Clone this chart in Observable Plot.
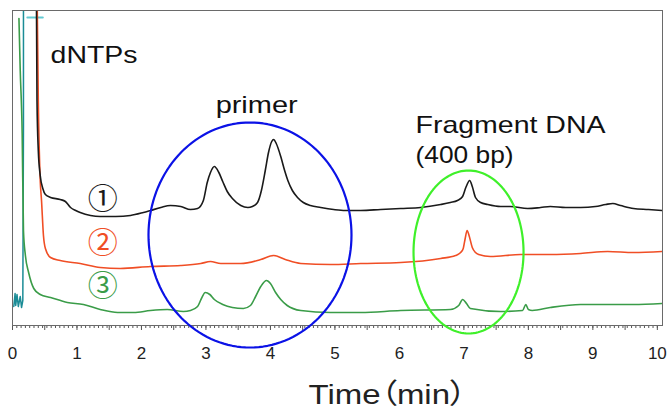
<!DOCTYPE html>
<html><head><meta charset="utf-8">
<script src="https://cdn.jsdelivr.net/npm/d3@7"></script>
<script src="https://cdn.jsdelivr.net/npm/@observablehq/plot@0.6"></script>
<style>body{margin:0;background:#fff} #chart svg{display:block}</style>
</head><body><div id="chart"></div><script>
// Chromatogram traces: retention time (min) and detector signal (arbitrary units)
const tBlack = [0.37,0.38,0.40,0.43,0.47,0.51,0.59,0.74,0.82,0.90,0.98,1.05,1.21,1.36,1.60,1.83,2.03,2.14,2.30,2.45,2.61,2.76,2.87,2.96,3.02,3.07,3.13,3.20,3.26,3.33,3.41,3.54,3.65,3.72,3.80,3.86,3.92,3.97,4.02,4.05,4.09,4.16,4.22,4.27,4.34,4.42,4.51,4.62,4.78,4.98,5.16,5.40,5.71,6.02,6.33,6.64,6.79,6.90,6.98,7.03,7.09,7.13,7.18,7.26,7.37,7.57,7.72,7.99,8.19,8.34,8.58,8.81,9.04,9.20,9.31,9.43,9.63,9.86,10.08];
const vBlack = [340,225,175,150,137,131,128,126,124,118,115,113,110,109,109,110,113,115,118,120,119,116,117,125,143,153,159,153,144,134,127,120,118,119,123,135,155,173,184,186,182,169,155,145,135,128,123,120,118,116,115,115,116,117,118,121,123,125,129,138,145,139,128,123,121,119,119,117,118,119,118,118,119,121,122,120,117,116,115];

const tRed = [0.38,0.40,0.43,0.45,0.48,0.51,0.59,0.74,1.05,1.36,1.67,2.14,2.61,2.92,3.07,3.23,3.54,3.85,4.05,4.23,4.47,4.93,5.40,6.02,6.64,6.87,6.95,6.99,7.02,7.05,7.08,7.13,7.18,7.23,7.41,7.88,8.34,8.81,9.23,9.63,10.08];
const vRed = [340,225,145,125,90,77,68,65,62,58,57,59,60,62,64,62,62,66,70,66,62,61,62,63,67,70,73,77,87,95,90,78,73,71,69,71,71,72,74,73,74];

const tGreen = [0.10,0.12,0.15,0.17,0.20,0.25,0.33,0.43,0.59,0.85,1.10,1.36,1.63,1.88,2.14,2.40,2.65,2.76,2.87,2.93,2.99,3.06,3.13,3.26,3.41,3.58,3.69,3.77,3.85,3.94,4.00,4.08,4.16,4.26,4.47,4.93,5.40,6.02,6.79,6.92,6.98,7.04,7.10,7.57,7.91,7.96,8.00,8.06,8.34,8.81,9.63,10.08];
const vGreen = [307,255,192,95,70,53,37,31,28,23,21,16,13,13,15,16,14,15,19,27,33,31,26,21,18,17,20,29,39,45,42,33,26,20,15,13,13,15,16,20,26,22,17,14,15,21,16,15,18,21,21,22];

const tTeal = [0.02,0.04,0.05,0.07,0.09,0.12,0.14,0.16,0.17,0.17];
const vTeal = [19,32,20,31,19,29,18,25,200,340];

const tMarker = [0.23,0.47];
const vMarker = [308,308];

// Tick values / labels
const xTickLabels = [0,1,2,3,4,5,6,7,8,9,10];
const xMajorTicks = d3.range(0, 10.01, 0.5);
const xMinorTicks = d3.range(0, 151).map(i => i / 15);

// Annotations
const labelText = ["dNTPs", "primer", "Fragment DNA", "(400 bp)"];
const labelT = [0.59, 3.15, 6.25, 6.25];
const labelV = [263, 213, 193, 163];
const circledText = ["①", "②", "③"];
const circledT = [1.40, 1.40, 1.40];
const circledV = [126, 82, 39];
const circledColor = ["#1a1a1a", "#f04e25", "#3a9c48"];

const blueCircle = {t: 3.683, v: 90.5, rt: 1.574, rv: 112.5};
const limeEllipse = {t: 7.072, v: 73.5, rt: 0.853, rv: 81.5};

const rows = (t, v) => t.map((x, i) => ({t: x, v: v[i]}));
const ellipse = c => d3.range(0, 145).map(i => {
  const a = i / 144 * 2 * Math.PI;
  return {t: c.t + c.rt * Math.cos(a), v: c.v + c.rv * Math.sin(a)};
});
const labels = labelText.map((s, i) => ({s, t: labelT[i], v: labelV[i]}));
const circled = circledText.map((s, i) => ({s, t: circledT[i], v: circledV[i], c: circledColor[i]}));

const fontLatin = "Liberation Sans, Arial, Noto Sans CJK JP, sans-serif";

const chart = Plot.plot({
  width: 667, height: 409,
  marginLeft: 12, marginRight: 5, marginTop: 10, marginBottom: 84,
  x: {domain: [0, 10.08]},
  y: {domain: [0, 315], axis: null},
  style: {background: "white", fontFamily: fontLatin, color: "#222"},
  marks: [
    Plot.axisX(xMinorTicks, {tickSize: 3, tickFormat: () => "", label: null, stroke: "#555"}),
    Plot.axisX(xMajorTicks, {tickSize: 5, tickFormat: () => "", label: null, stroke: "#555"}),
    Plot.axisX(xTickLabels, {tickSize: 0, tickPadding: 21, fontSize: 17, label: null, fill: "#222"}),
    Plot.line(rows(tTeal, vTeal), {x: "t", y: "v", stroke: "#1b8c96", strokeWidth: 1.5, clip: true}),
    Plot.line(rows(tMarker, vMarker), {x: "t", y: "v", stroke: "#62c9d2", strokeWidth: 2}),
    Plot.line(rows(tGreen, vGreen), {x: "t", y: "v", stroke: "#3a9c48", strokeWidth: 1.6, curve: "monotone-x", clip: true}),
    Plot.line(rows(tRed, vRed), {x: "t", y: "v", stroke: "#f04e25", strokeWidth: 1.6, curve: "monotone-x", clip: true}),
    Plot.line(rows(tBlack, vBlack), {x: "t", y: "v", stroke: "#1a1a1a", strokeWidth: 1.6, curve: "monotone-x", clip: true}),
    Plot.frame({stroke: "#6a6a6a", strokeWidth: 1}),
    Plot.line(ellipse(blueCircle), {x: "t", y: "v", stroke: "#0b12e6", strokeWidth: 2.2, curve: "linear-closed"}),
    Plot.line(ellipse(limeEllipse), {x: "t", y: "v", stroke: "#3ff02a", strokeWidth: 2.2, curve: "linear-closed"}),
    Plot.text(labels, {x: "t", y: "v", text: "s", textAnchor: "start", lineAnchor: "bottom", fontSize: 24, fill: "#111"}),
    Plot.text(circled, {x: "t", y: "v", text: "s", fill: "c", fontSize: 30, fontFamily: "Noto Sans CJK JP", lineAnchor: "middle"}),
    Plot.text(["Time（min）"], {x: [4.59], y: [-78], text: d => d, textAnchor: "start", lineAnchor: "bottom", fontSize: 28, fill: "#222"})
  ]
});
document.getElementById("chart").appendChild(chart);

// stretch the wide annotation lettering like in the reference
const widths = {"dNTPs": 87, "primer": 82, "Fragment DNA": 190, "(400 bp)": 98, "Time（min）": 158};
d3.select(chart).selectAll("text").each(function() {
  const w = widths[this.textContent];
  if (w) d3.select(this).attr("textLength", w).attr("lengthAdjust", "spacingAndGlyphs");
  if (this.textContent === "Time（min）") d3.select(this).style("font-feature-settings", "'palt'");
});
</script></body></html>
